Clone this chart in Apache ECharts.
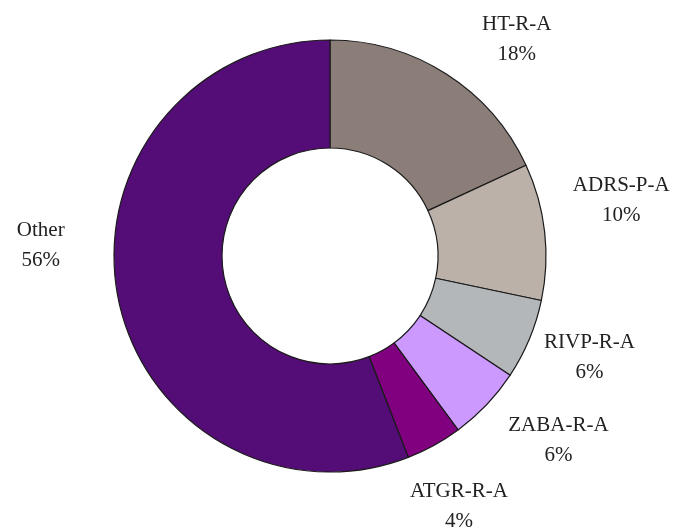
<!DOCTYPE html>
<html>
<head>
<meta charset="utf-8">
<script src="https://cdn.jsdelivr.net/npm/echarts@6/dist/echarts.min.js"></script>
<style>
html,body{margin:0;padding:0;background:#fff;}
#chart{width:676px;height:529px;}
</style>
</head>
<body>
<div id="chart"></div>
<script>
var categories = ["HT-R-A", "ADRS-P-A", "RIVP-R-A", "ZABA-R-A", "ATGR-R-A", "Other"];
var shares = [18.1, 10.2, 6.0, 5.6, 4.2, 55.9];
var colors = ["#8b7e78", "#bbb1a9", "#b4b7ba", "#cc99ff", "#800080", "#540c76"];
// label nudges (layout styling, px) relative to the default outside anchor
var labelNudgeX = [37, 15, 3, 27, -5, -16];
var labelNudgeY = [18, -24, -6, -7, 7, -62];

var chart = echarts.init(document.getElementById('chart'), null, {renderer: 'canvas'});
var data = categories.map(function (c, i) {
  return {name: c, value: shares[i], itemStyle: {color: colors[i]}};
});
chart.setOption({
  animation: false,
  backgroundColor: '#ffffff',
  series: [{
    type: 'pie',
    center: [330, 256],
    radius: [108, 216],
    startAngle: 90,
    clockwise: true,
    avoidLabelOverlap: false,
    itemStyle: {borderColor: '#1a1a1a', borderWidth: 1.2},
    label: {
      show: true,
      position: 'outside',
      fontFamily: '"Liberation Serif", "DejaVu Serif", serif',
      fontSize: 21,
      lineHeight: 30,
      color: '#222',
      formatter: function (p) { return p.name + '\n' + Math.round(p.percent) + '%'; }
    },
    labelLine: {show: false, length: 62, length2: 0},
    labelLayout: function (p) {
      var pts = p.labelLinePoints;
      var end = pts[pts.length - 1];
      var i = p.dataIndex;
      return {x: end[0] + labelNudgeX[i], y: end[1] + labelNudgeY[i], align: 'center', verticalAlign: 'middle'};
    },
    emphasis: {disabled: true},
    data: data
  }]
});
</script>
</body>
</html>
